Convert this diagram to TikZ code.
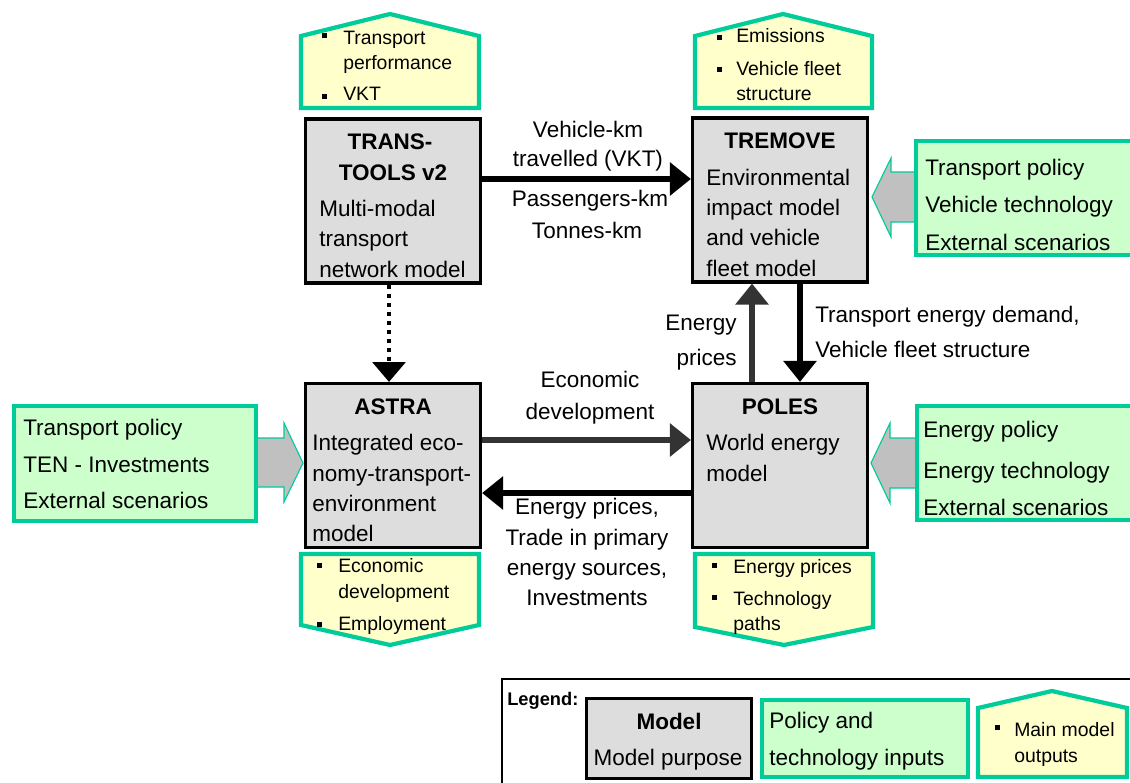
\documentclass[tikz,border=0pt]{standalone}
\usepackage{fontspec}
\setmainfont{Liberation Sans}
\usetikzlibrary{arrows.meta}
\definecolor{modelgrey}{HTML}{DDDDDD}
\definecolor{inpgreen}{HTML}{00CC99}
\definecolor{inpfill}{HTML}{CCFFCC}
\definecolor{outfill}{HTML}{FFFFCC}
\definecolor{arrgrey}{HTML}{C0C0C0}
\definecolor{darkline}{HTML}{333333}
\tikzset{
  model/.style={draw=black,line width=2.2pt,fill=modelgrey,minimum width=4.375cm,minimum height=4.1cm,inner sep=0},
  inbox/.style={draw=inpgreen,line width=3pt,fill=inpfill},
  outbox/.style={draw=inpgreen,line width=3pt,fill=outfill},
  blockarrow/.style={draw=inpgreen,line width=0.8pt,fill=arrgrey},
  lt/.style={anchor=base west,inner sep=0,font=\fontsize{16}{19}\selectfont},
  ct/.style={anchor=base,inner sep=0,font=\fontsize{16}{19}\selectfont},
  title/.style={anchor=base,inner sep=0,font=\fontsize{16}{19}\selectfont\bfseries},
  sm/.style={anchor=base west,inner sep=0,font=\fontsize{13.8}{16}\selectfont},
  link/.style={line width=3.8pt,-{Triangle[length=15pt,width=23pt]}},
  greylink/.style={link,draw=darkline},
  dotlink/.style={line width=3pt,dash pattern=on 3pt off 3.4pt,-{Triangle[length=14pt,width=23pt]}}
}
\begin{document}
\begin{tikzpicture}[x=0.025cm,y=-0.025cm]
\useasboundingbox[fill=white] (0,0) rectangle (1130,782);

% models
\node[model] (tt) at (393,201) {};
\node[model] (tre) at (780,200) {};
\node[model] (astra) at (393,465.5) {};
\node[model] (poles) at (780,465.5) {};

\node[title] (tt1) at (390,149) {TRANS-};
\node[title] (tt2) at (393,180) {TOOLS v2};
\node[lt] (tt3) at (319,216) {Multi-modal};
\node[lt] (tt4) at (319,246) {transport};
\node[lt] (tt5) at (319,277) {network model};

\node[title] (tre1) at (780,148) {TREMOVE};
\node[lt] (tre2) at (706,185) {Environmental};
\node[lt] (tre3) at (706,215) {impact model};
\node[lt] (tre4) at (706,245) {and vehicle};
\node[lt] (tre5) at (706,276) {fleet model};

\node[title] (astra1) at (393,414) {ASTRA};
\node[lt] (astra2) at (312,450) {Integrated eco-};
\node[lt] (astra3) at (312,481) {nomy-transport-};
\node[lt] (astra4) at (312,511) {environment};
\node[lt] (astra5) at (312,541) {model};

\node[title] (poles1) at (780,414) {POLES};
\node[lt] (poles2) at (706,450) {World energy};
\node[lt] (poles3) at (706,481) {model};

% main outputs
\draw[outbox] (301,36) -- (390,14) -- (479,36) -- (479,108) -- (301,108) -- cycle;
\draw[outbox] (695,36) -- (783,14) -- (872,36) -- (872,108) -- (695,108) -- cycle;
\draw[outbox] (301,554) -- (479,554) -- (479,625) -- (390,645) -- (301,625) -- cycle;
\draw[outbox] (695,554) -- (873,554) -- (873,627) -- (784,645) -- (695,627) -- cycle;

\fill (322,33) rectangle (327,38);
\fill (322,94) rectangle (327,99);
\node[sm] (tto1) at (343,45) {Transport};
\node[sm] (tto2) at (343,69) {performance};
\node[sm] (tto3) at (343,101) {VKT};

\fill (717,35) rectangle (722,40);
\fill (717,67) rectangle (722,72);
\node[sm] (treo1) at (736,43) {Emissions};
\node[sm] (treo2) at (736,75) {Vehicle fleet};
\node[sm] (treo3) at (736,100) {structure};

\fill (317,563) rectangle (322,568);
\fill (317,622) rectangle (322,627);
\node[sm] (astrao1) at (338,572) {Economic};
\node[sm] (astrao2) at (338,598) {development};
\node[sm] (astrao3) at (338,630) {Employment};

\fill (712,563) rectangle (717,568);
\fill (712,595) rectangle (717,600);
\node[sm] (poleso1) at (733,573) {Energy prices};
\node[sm] (poleso2) at (733,605) {Technology};
\node[sm] (poleso3) at (733,630) {paths};

% policy and technology inputs
\draw[blockarrow] (916,172) -- (891,172) -- (891,158) -- (872,197) -- (891,237) -- (891,222) -- (916,222) -- cycle;
\draw[blockarrow] (256,438) -- (284,438) -- (284,423) -- (303,463) -- (284,502) -- (284,487) -- (256,487) -- cycle;
\draw[blockarrow] (917,438) -- (890,438) -- (890,423) -- (871,463) -- (890,503) -- (890,488) -- (917,488) -- cycle;

\draw[inbox] (916,141) rectangle (1140,255);
\node[lt] (in1) at (925,175) {Transport policy};
\node[lt] (in2) at (925,212) {Vehicle technology};
\node[lt] (in3) at (925,250) {External scenarios};

\draw[inbox] (14,406) rectangle (256,521);
\node[lt] (in4) at (23,435) {Transport policy};
\node[lt] (in5) at (23,472) {TEN - Investments};
\node[lt] (in6) at (23,508) {External scenarios};

\draw[inbox] (917,406) rectangle (1140,520);
\node[lt] (in7) at (923,437) {Energy policy};
\node[lt] (in8) at (923,478) {Energy technology};
\node[lt] (in9) at (923,515) {External scenarios};

% links between models
\coordinate (vkt) at (0,179);
\coordinate (econ) at (0,440);
\coordinate (back) at (0,493);
\coordinate (up) at (752,0);
\coordinate (down) at (800,0);
\coordinate (dot) at (389,0);

\draw[link,line width=4.8pt] (tt.east |- vkt) -- (tre.west |- vkt);
\draw[greylink] (astra.east |- econ) -- (poles.west |- econ);
\draw[link] (poles.west |- back) -- (astra.east |- back);
\draw[greylink] (poles.north -| up) -- (tre.south -| up);
\draw[link] (tre.south -| down) -- (poles.north -| down);
\draw[dotlink] (tt.south -| dot) -- (astra.north -| dot);

\node[ct] (l1) at (588,137) {Vehicle-km};
\node[ct] (l2) at (588,166) {travelled (VKT)};
\node[ct] (l3) at (590,206) {Passengers-km};
\node[ct] (l4) at (587,238) {Tonnes-km};

\node[ct] (l5) at (590,387) {Economic};
\node[ct] (l6) at (590,419) {development};

\node[ct] (l7) at (587,514) {Energy prices,};
\node[ct] (l8) at (587,545) {Trade in primary};
\node[ct] (l9) at (587,575) {energy sources,};
\node[ct] (l10) at (587,605) {Investments};

\node[lt,anchor=base east] (l11) at (737,330) {Energy};
\node[lt,anchor=base east] (l12) at (737,365) {prices};
\node[lt] (l13) at (815,322) {Transport energy demand,};
\node[lt] (l14) at (815,357) {Vehicle fleet structure};

% legend
\draw[line width=1.5pt] (502,679) rectangle (1145,800);
\node[anchor=base west,inner sep=0,font=\fontsize{13}{15}\selectfont\bfseries] (leg) at (507,705) {Legend:};
\node[model,minimum width=4.125cm,minimum height=2cm] (legmodel) at (669,738.5) {};
\node[title] (legm1) at (669,729) {Model};
\node[ct] (legm2) at (668,765) {Model purpose};
\draw[inbox] (762,700) rectangle (968,777);
\node[lt] (legi1) at (769,728) {Policy and};
\node[lt] (legi2) at (769,765) {technology inputs};
\draw[outbox] (978,708) -- (1052,691) -- (1127,708) -- (1127,777) -- (978,777) -- cycle;
\fill (995,725) rectangle (1000,730);
\node[sm] (lego1) at (1014,736) {Main model};
\node[sm] (lego2) at (1014,762) {outputs};
\end{tikzpicture}
\end{document}
